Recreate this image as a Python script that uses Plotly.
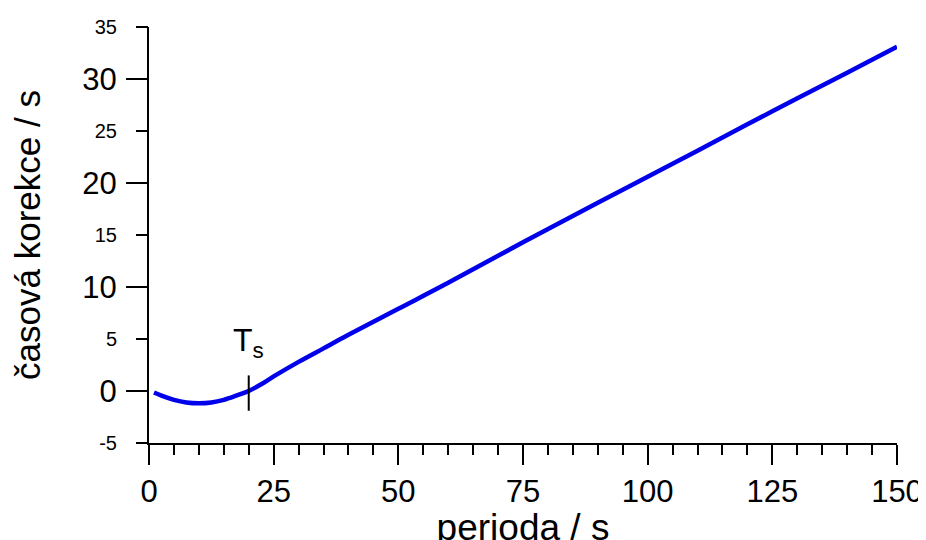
import plotly.graph_objects as go

# data
perioda = [1, 2.5, 5, 7.5, 10, 12.5, 15, 17.5, 20, 22.5, 25, 30, 35, 40, 50, 60, 75, 90, 100, 110, 125, 140, 150]
korekce = [-0.15, -0.45, -0.85, -1.1, -1.18, -1.1, -0.85, -0.45, 0.0, 0.65, 1.4, 2.8, 4.1, 5.4, 7.9, 10.4, 14.3, 18.1, 20.6, 23.1, 26.9, 30.6, 33.1]

ts_x = [20, 20]
ts_y = [-1.9, 1.5]
ts_label_x = 20
ts_label_y = 2.5

x_ticks = [0, 25, 50, 75, 100, 125, 150]
x_labels = ["0", "25", "50", "75", "100", "125", "150"]
y_major = [0, 10, 20, 30]
y_major_labels = ["0", "10", "20", "30"]
y_minor = [-5, 5, 15, 25, 35]
y_minor_labels = ["-5", "5", "15", "25", "35"]

FONT = "Liberation Sans, Arial, Helvetica, sans-serif"

fig = go.Figure()
fig.add_trace(go.Scatter(x=perioda, y=korekce, mode="lines",
                         line=dict(color="rgb(0,0,235)", width=4.5, shape="spline"),
                         hoverinfo="skip", showlegend=False))
fig.add_trace(go.Scatter(x=ts_x, y=ts_y, mode="lines", yaxis="y2",
                         line=dict(color="black", width=2),
                         hoverinfo="skip", showlegend=False))

fig.add_annotation(x=ts_label_x, y=ts_label_y, xref="x", yref="y",
                   text="T<sub>s</sub>", showarrow=False,
                   xanchor="center", yanchor="bottom",
                   font=dict(family=FONT, size=32, color="black"))

fig.update_layout(
    width=926, height=540,
    margin=dict(l=141, r=37, t=19, b=105),
    paper_bgcolor="white", plot_bgcolor="white",
    font=dict(family=FONT, color="black"),
    xaxis=dict(range=[0, 150], tickvals=x_ticks, ticktext=x_labels,
               ticks="outside", ticklen=20,
               tickwidth=2, tickcolor="black", showline=True, linewidth=2,
               linecolor="black", showgrid=False, zeroline=False,
               tickfont=dict(size=31, family=FONT),
               minor=dict(dtick=5, tick0=0, ticks="outside", ticklen=10,
                          tickwidth=2, tickcolor="black", showgrid=False),
               title=dict(text="perioda / s", font=dict(size=37, family=FONT),
                          standoff=5),
               automargin=False),
    yaxis=dict(range=[-5, 35], tickvals=y_major, ticktext=y_major_labels,
               ticks="outside", ticklen=21,
               tickwidth=2, tickcolor="black", showline=True, linewidth=2,
               linecolor="black", showgrid=False, zeroline=False,
               tickfont=dict(size=31, family=FONT), ticklabelstandoff=3,
               title=dict(text="časová korekce / s", font=dict(size=35, family=FONT),
                          standoff=42),
               automargin=False),
    yaxis2=dict(range=[-5, 35], overlaying="y", side="left", tickvals=y_minor,
                ticktext=y_minor_labels,
                ticks="outside", ticklen=12, tickwidth=2, tickcolor="black",
                showline=False, showgrid=False, zeroline=False,
                tickfont=dict(size=20, family=FONT), ticklabelstandoff=15,
                automargin=False),
)

fig.write_html("out.html")
